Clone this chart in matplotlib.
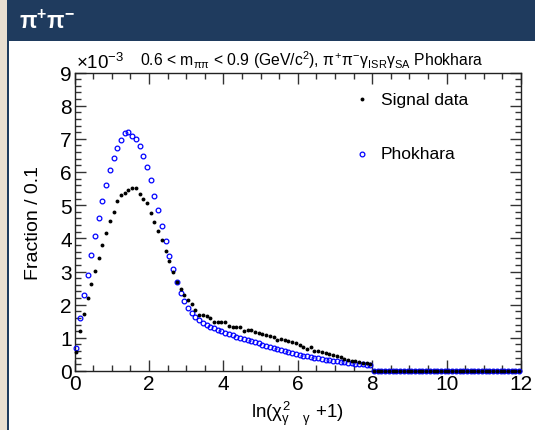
import numpy as np
import matplotlib
matplotlib.use("Agg")
import matplotlib.pyplot as plt
from matplotlib.patches import Rectangle
from matplotlib.lines import Line2D

plt.rcParams['font.family'] = ['Liberation Sans', 'DejaVu Sans']
plt.rcParams['mathtext.fontset'] = 'custom'
plt.rcParams['mathtext.rm'] = 'Liberation Sans'
plt.rcParams['mathtext.it'] = 'Liberation Sans'
plt.rcParams['mathtext.bf'] = 'Liberation Sans:bold'

# ---- data (units of 1e-3), bins of width 0.1 from 0 to 12 ----
signal_data = [
    0.56, 1.21, 1.71, 2.19, 2.62, 3.01, 3.40, 3.81, 4.16, 4.52,
    4.79, 5.13, 5.30, 5.37, 5.46, 5.52, 5.53, 5.34, 5.19, 5.07,
    4.76, 4.50, 4.23, 3.96, 3.62, 3.31, 2.99, 2.68, 2.47, 2.28,
    2.15, 2.02, 1.83, 1.70, 1.69, 1.66, 1.59, 1.49, 1.47, 1.47,
    1.47, 1.36, 1.34, 1.33, 1.32, 1.21, 1.24, 1.23, 1.19, 1.14,
    1.11, 1.09, 1.05, 1.02, 0.92, 0.97, 0.93, 0.89, 0.86, 0.85,
    0.79, 0.71, 0.65, 0.71, 0.61, 0.61, 0.58, 0.54, 0.51, 0.47,
    0.45, 0.41, 0.37, 0.34, 0.31, 0.29, 0.27, 0.25, 0.23, 0.21,
    0, 0, 0, 0, 0, 0, 0, 0, 0, 0,
    0, 0, 0, 0, 0, 0, 0, 0, 0, 0,
    0, 0, 0, 0, 0, 0, 0, 0, 0, 0,
    0, 0, 0, 0, 0, 0, 0, 0, 0, 0,
]
phokhara = [
    0.70, 1.59, 2.28, 2.89, 3.50, 4.08, 4.61, 5.12, 5.62, 6.07,
    6.43, 6.73, 6.95, 7.17, 7.20, 7.09, 6.99, 6.78, 6.47, 6.15,
    5.76, 5.28, 4.84, 4.38, 3.92, 3.48, 3.07, 2.68, 2.36, 2.11,
    1.91, 1.75, 1.62, 1.53, 1.45, 1.39, 1.34, 1.29, 1.24, 1.20,
    1.16, 1.12, 1.08, 1.04, 1.00, 0.97, 0.93, 0.89, 0.86, 0.83,
    0.79, 0.76, 0.73, 0.70, 0.67, 0.64, 0.61, 0.58, 0.55, 0.52,
    0.49, 0.46, 0.44, 0.42, 0.40, 0.38, 0.36, 0.34, 0.32, 0.31,
    0.29, 0.28, 0.26, 0.25, 0.24, 0.22, 0.21, 0.20, 0.19, 0.18,
    0, 0, 0, 0, 0, 0, 0, 0, 0, 0,
    0, 0, 0, 0, 0, 0, 0, 0, 0, 0,
    0, 0, 0, 0, 0, 0, 0, 0, 0, 0,
    0, 0, 0, 0, 0, 0, 0, 0, 0, 0,
]
bin_width = 0.1
bin_centers = (np.arange(len(signal_data)) + 0.5) * bin_width
x_ticks = [0, 2, 4, 6, 8, 10, 12]
y_ticks = [0, 1, 2, 3, 4, 5, 6, 7, 8, 9]

W, H = 535, 431
fig = plt.figure(figsize=(W / 100, H / 100), dpi=100)
fig.patch.set_facecolor('#e9dfd1')

navy = '#1f3b5e'
hdr_h = 42
fig.patches.append(Rectangle((8 / W, 0), 1 - 8 / W, 1 - hdr_h / H,
                             transform=fig.transFigure, facecolor='white',
                             edgecolor='none', zorder=-10))
fig.patches.append(Rectangle((7 / W, 0), 2 / W, 1 - hdr_h / H,
                             transform=fig.transFigure, facecolor=navy,
                             edgecolor='none', zorder=-9))
fig.patches.append(Rectangle((7 / W, 1 - hdr_h / H), 1 - 7 / W, hdr_h / H,
                             transform=fig.transFigure, facecolor=navy,
                             edgecolor='none', zorder=-9))
fig.text(19 / W, 1 - 22 / H, r'$\mathbf{\pi^{+}\pi^{-}}$', color='white',
         fontsize=16.5, ha='left', va='center')

ax = fig.add_axes([74.5 / W, 1 - 372 / H, (521 - 74.5) / W, (372 - 73.5) / H])
ax.set_zorder(5)
ax.set_facecolor('white')

ax.plot(bin_centers, phokhara, linestyle='none', marker='o', markersize=3.4,
        markerfacecolor='none', markeredgecolor='#0000ff', markeredgewidth=0.9,
        clip_on=False, zorder=3)
ax.plot(bin_centers, signal_data, linestyle='none', marker='o', markersize=2.8,
        markerfacecolor='black', markeredgecolor='black', markeredgewidth=0,
        clip_on=False, zorder=4)

ax.set_xlim(0, 12)
ax.set_ylim(0, 9)
ax.set_xticks(x_ticks)
ax.set_yticks(y_ticks)
ax.set_xticks(np.arange(0, 12.01, 0.5), minor=True)
ax.set_yticks(np.arange(0, 9.01, 0.2), minor=True)
ax.tick_params(which='both', direction='in', top=True, right=True,
               labelsize=15, width=1.0, color='#333333')
ax.tick_params(which='major', length=8, pad=2)
ax.tick_params(which='minor', length=4)
for s in ax.spines.values():
    s.set_linewidth(1.0)
    s.set_color('#222222')

ax.set_ylabel('Fraction / 0.1', fontsize=14, labelpad=13)
ax.set_xlabel(r'ln($\chi^{2}_{\gamma\ \ \ \ \gamma}$ +1)', fontsize=13.5, labelpad=4)

fig.text(76 / W, 1 - 63 / H, r'$\times$10$^{-3}$', fontsize=13.5, ha='left', va='center')
fig.text(312 / W, 1 - 60 / H,
         r'0.6 < m$_{\pi\pi}$ < 0.9 (GeV/c$^{2}$), $\pi^{+}\pi^{-}\gamma_{ISR}\gamma_{SA}$ Phokhara',
         fontsize=11.3, ha='center', va='center')

# legend
fig.lines.append(Line2D([362 / W], [1 - 100 / H], transform=fig.transFigure,
                        linestyle='none', marker='o', markersize=2.8, markerfacecolor='black',
                        markeredgewidth=0, zorder=10))
fig.lines.append(Line2D([362 / W], [1 - 155 / H], transform=fig.transFigure,
                        linestyle='none', marker='o', markersize=3.4, markerfacecolor='none',
                        markeredgecolor='#0000ff', markeredgewidth=0.9, zorder=10))
fig.text(381 / W, 1 - 100 / H, 'Signal data', fontsize=12.5, ha='left', va='center', zorder=10)
fig.text(381 / W, 1 - 155 / H, 'Phokhara', fontsize=12.5, ha='left', va='center', zorder=10)

fig.savefig('out.png', dpi=100, facecolor=fig.get_facecolor())
